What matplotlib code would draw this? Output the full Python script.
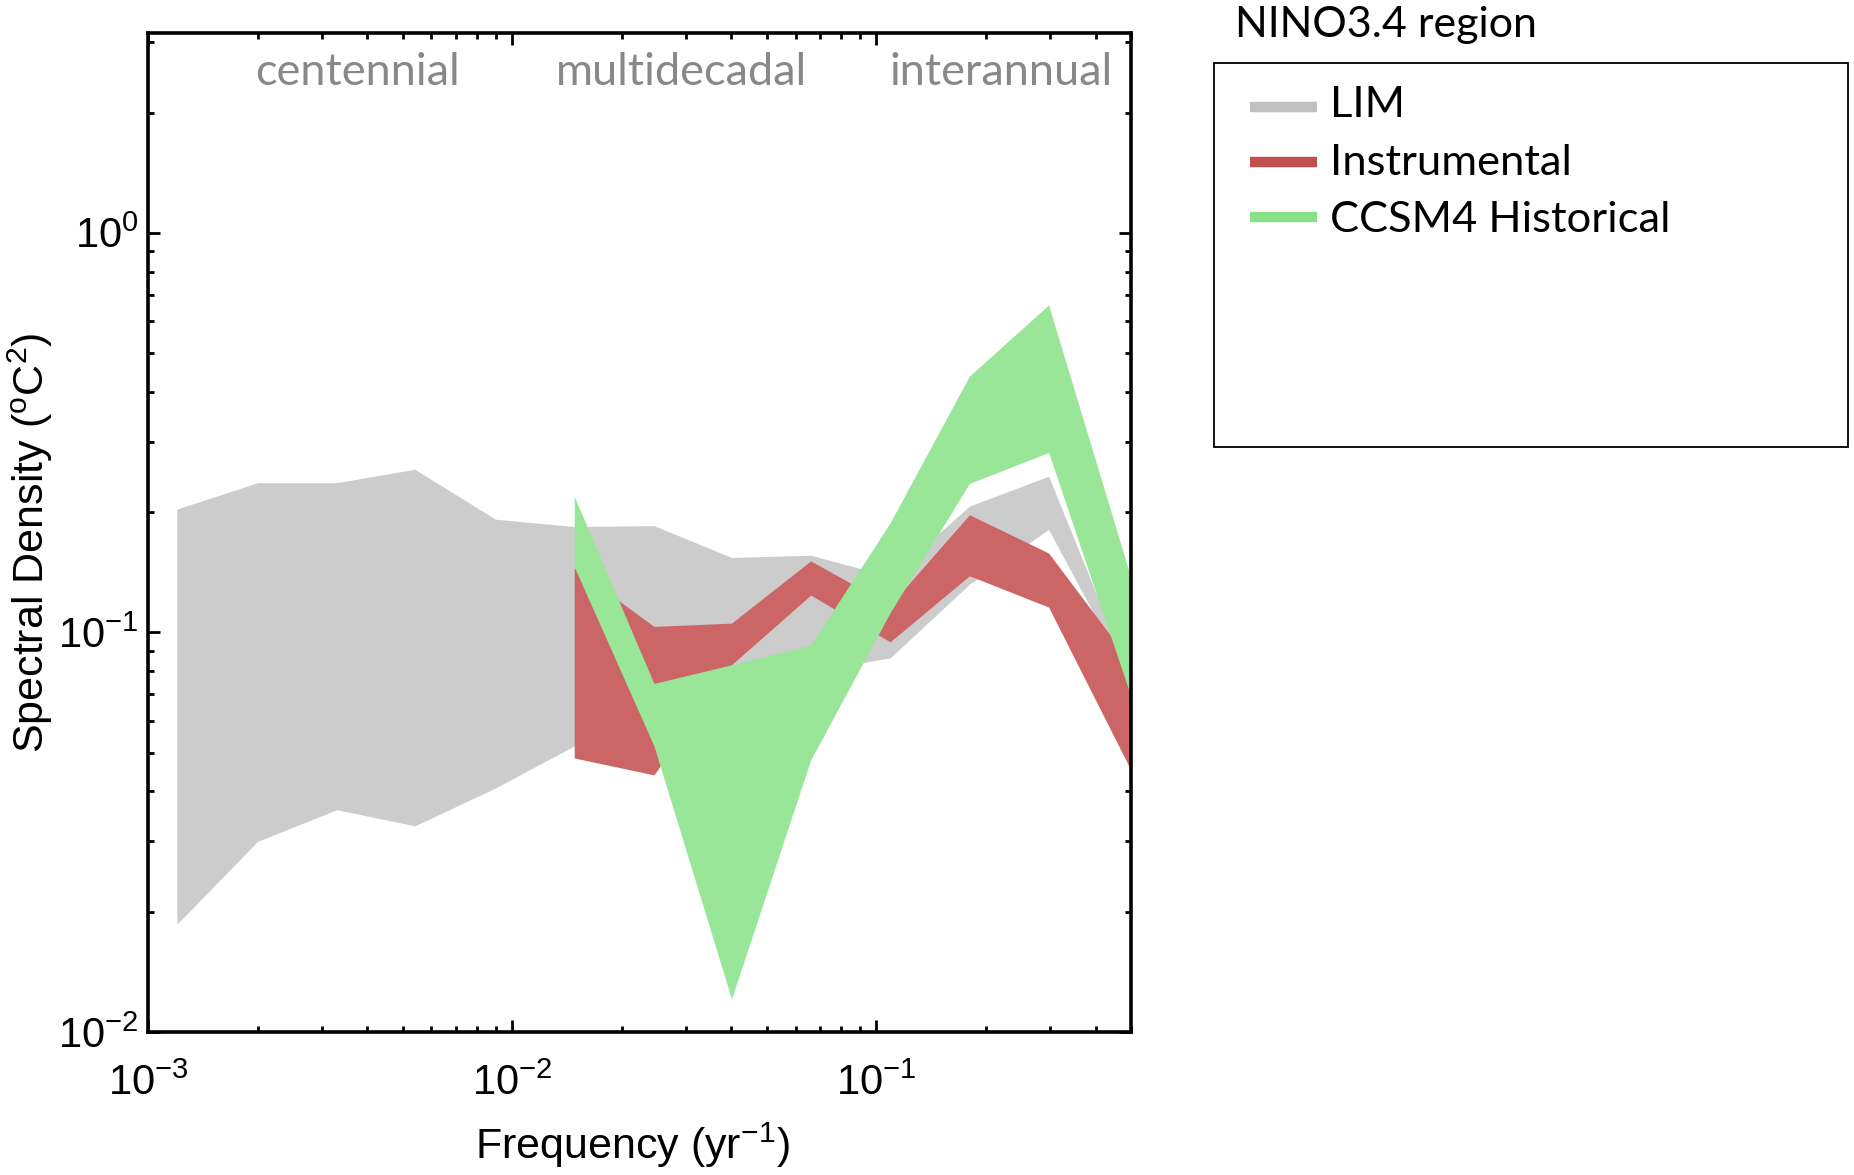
import matplotlib
matplotlib.use("Agg")
import matplotlib.pyplot as plt
from matplotlib import font_manager
from matplotlib.lines import Line2D
from matplotlib.patches import Rectangle


def pick_font(*names):
    for n in names:
        try:
            font_manager.findfont(font_manager.FontProperties(family=n), fallback_to_default=False)
            return n
        except Exception:
            continue
    return "DejaVu Sans"


NARROW = pick_font("Liberation Sans Narrow", "Liberation Sans", "DejaVu Sans")
SANS = pick_font("Liberation Sans", "DejaVu Sans")
CAL = pick_font("Lato", "Open Sans", "DejaVu Sans")

plt.rcParams["font.family"] = SANS
plt.rcParams["mathtext.fontset"] = "custom"
plt.rcParams["mathtext.rm"] = SANS
plt.rcParams["mathtext.it"] = SANS
plt.rcParams["mathtext.bf"] = SANS
plt.rcParams["axes.unicode_minus"] = False

# ---------------- data ----------------
freq = [0.0012, 0.002, 0.0033, 0.0054, 0.009, 0.0148, 0.0245, 0.040,
        0.066, 0.109, 0.18, 0.297, 0.495]

lim_upper = [0.2035, 0.237, 0.237, 0.256, 0.192, 0.184, 0.185, 0.154,
             0.156, 0.138, 0.207, 0.246, 0.078]
lim_lower = [0.0186, 0.030, 0.036, 0.0328, 0.0408, 0.052, 0.060, 0.070,
             0.080, 0.0863, 0.132, 0.181, 0.076]

instr_freq = freq[5:]
instr_upper = [0.145, 0.1035, 0.1055, 0.151, 0.117, 0.197, 0.158, 0.085]
instr_lower = [0.0485, 0.044, 0.083, 0.124, 0.0947, 0.1386, 0.1157, 0.046]

ccsm_freq = freq[5:]
ccsm_upper = [0.219, 0.0745, 0.083, 0.093, 0.188, 0.438, 0.66, 0.141]
ccsm_lower = [0.146, 0.052, 0.0121, 0.048, 0.112, 0.236, 0.282, 0.071]

band_labels = ["centennial", "multidecadal", "interannual"]
legend_labels = ["LIM", "Instrumental", "CCSM4 Historical"]
title = "NINO3.4 region"

fill_colors = ["#cccccc", "#cc6666", "#99e699"]
legend_colors = ["#c0c0c0", "#c0504d", "#88e088"]

# ---------------- figure ----------------
W, H = 1854, 1175
fig = plt.figure(figsize=(W / 100, H / 100), dpi=100)


def fx(px):
    return px / W


def fy(py):
    return 1 - py / H


ax = fig.add_axes([fx(148), fy(1032), fx(1131) - fx(148), fy(33) - fy(1032)])
ax.set_xscale("log")
ax.set_yscale("log")

ax.fill_between(freq, lim_lower, lim_upper, color=fill_colors[0], lw=0, zorder=1)
ax.fill_between(instr_freq, instr_lower, instr_upper, color=fill_colors[1], lw=0, zorder=2)
ax.fill_between(ccsm_freq, ccsm_lower, ccsm_upper, color=fill_colors[2], lw=0, zorder=3)

ax.set_xlim(1e-3, 0.5)
ax.set_ylim(1e-2, 10 ** 0.5)

for s in ax.spines.values():
    s.set_linewidth(2.6)
    s.set_zorder(5)
ax.tick_params(which="both", direction="in", top=True, right=True, width=2.0)
ax.tick_params(which="major", length=8.5)
ax.tick_params(which="minor", length=4.5)
ax.tick_params(axis="x", which="major", labelsize=30, pad=23)
ax.tick_params(axis="y", which="major", labelsize=30, pad=7)
ax.set_yticks([1e-2, 1e-1, 1e0])

# axis labels
fig.text(fx(632), fy(1159), r"Frequency (yr$^{-1}$)", family=NARROW, fontsize=31,
         ha="center", va="baseline")
fig.text(fx(30), fy(543), r"Spectral Density ($^{\mathrm{o}}$C$^{2}$)", family=NARROW,
         fontsize=31, rotation=90, ha="center", va="center")

# band labels inside the axes
for lab, px in zip(band_labels, [255, 556, 889]):
    fig.text(fx(px), fy(85), lab, family=CAL, fontsize=32.5, color="#888888",
             ha="left", va="baseline")

# title and legend box
fig.text(fx(1235), fy(37), title, family=CAL, fontsize=31, ha="left", va="baseline")
fig.patches.append(Rectangle((fx(1214), fy(447)), fx(1848) - fx(1214), fy(63) - fy(447),
                             transform=fig.transFigure, fill=False, lw=1.3,
                             edgecolor="black"))
for lab, col, ly, by in zip(legend_labels, legend_colors, [107, 162, 217], [117, 175, 232]):
    fig.lines.append(Line2D([fx(1250), fx(1317)], [fy(ly), fy(ly)], color=col, lw=7.5,
                            solid_capstyle="butt", transform=fig.transFigure))
    fig.text(fx(1330), fy(by), lab, family=CAL, fontsize=31.3, ha="left", va="baseline")

fig.savefig("out.png", dpi=100)
